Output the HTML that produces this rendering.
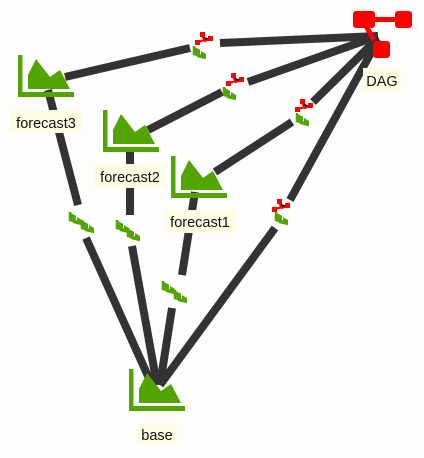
<!DOCTYPE html>
<html><head><style>body{margin:0;background:#fdfdfd}svg{display:block}text{font-family:"Liberation Sans",sans-serif;font-size:14.5px;fill:#111}</style></head><body>
<svg width="424" height="458" viewBox="0 0 424 458">
<defs>
<g id="ic"><rect x="0" y="0" width="4.5" height="42" fill="#52a500"/><rect x="0" y="37" width="56" height="5" fill="#52a500"/><polygon points="10,34 10,20 18,4 32,22 42,15 52,34" fill="#52a500"/></g>
<g id="sm"><path d="M0,0 l0,8 l8,2 M4,3 l0,7 l8,2" stroke="#52a500" stroke-width="2.5" fill="none"/><polygon points="1,1 6,4 6,8 1,7" fill="#52a500"/><polygon points="7,5 12,8 12,11 7,10" fill="#52a500"/></g>
<g id="rd"><rect x="0" y="4" width="5" height="5" fill="red"/><rect x="5" y="-4" width="5" height="5" fill="red"/><rect x="13" y="0" width="5" height="5" fill="red"/><path d="M7,0 l3,5 l5,-2 M3,6 l7,-2" stroke="red" stroke-width="2"/></g>
</defs>
<g stroke="#333" stroke-width="8" fill="none" stroke-linecap="butt">
<path d="M65,77 L190,48 M220,43 L378,36"/>
<path d="M148,130 L222,92 M248,82 L378,36"/>
<path d="M215,172 L292,122 M313,102 L378,38"/>
<path d="M160,385 L275,228 M290,200 L378,40"/>
<path d="M48,90 L78,205 M86,238 L152,385"/>
<path d="M130,150 L130,215 M132,246 L157,385"/>
<path d="M195,192 L182,275 M172,308 L160,385"/>
</g>
<use href="#rd" x="195" y="36"/><use href="#sm" x="194" y="46"/>
<use href="#rd" x="226" y="77"/><use href="#sm" x="224" y="87"/>
<use href="#rd" x="295" y="103"/><use href="#sm" x="297" y="113"/>
<use href="#rd" x="272" y="203"/><use href="#sm" x="276" y="212"/>
<use href="#sm" x="70" y="212"/><use href="#sm" x="82" y="220"/>
<use href="#sm" x="117" y="220"/><use href="#sm" x="128" y="228"/>
<use href="#sm" x="163" y="281"/><use href="#sm" x="175" y="290"/>
<use href="#ic" x="18" y="55"/>
<use href="#ic" x="103" y="110"/>
<use href="#ic" x="171" y="156"/>
<use href="#ic" x="129" y="369"/>
<g fill="red"><rect x="353" y="11" width="22" height="17" rx="3"/><rect x="395" y="11" width="17" height="17" rx="3"/><rect x="373" y="41" width="17" height="17" rx="3"/><rect x="372" y="17" width="25" height="5"/><path d="M366,26 l8,14" stroke="red" stroke-width="5"/></g>
<g fill="#fdfde3"><rect x="10" y="110" width="72" height="23"/><rect x="94" y="164" width="72" height="24"/><rect x="165" y="210" width="70" height="23"/><rect x="137" y="423" width="40" height="22"/><rect x="363" y="68" width="38" height="24"/></g>
<text x="46" y="128" text-anchor="middle">forecast3</text>
<text x="130" y="182" text-anchor="middle">forecast2</text>
<text x="200" y="227" text-anchor="middle">forecast1</text>
<text x="157" y="440" text-anchor="middle">base</text>
<text x="382" y="86" text-anchor="middle">DAG</text>
</svg>
</body></html>
